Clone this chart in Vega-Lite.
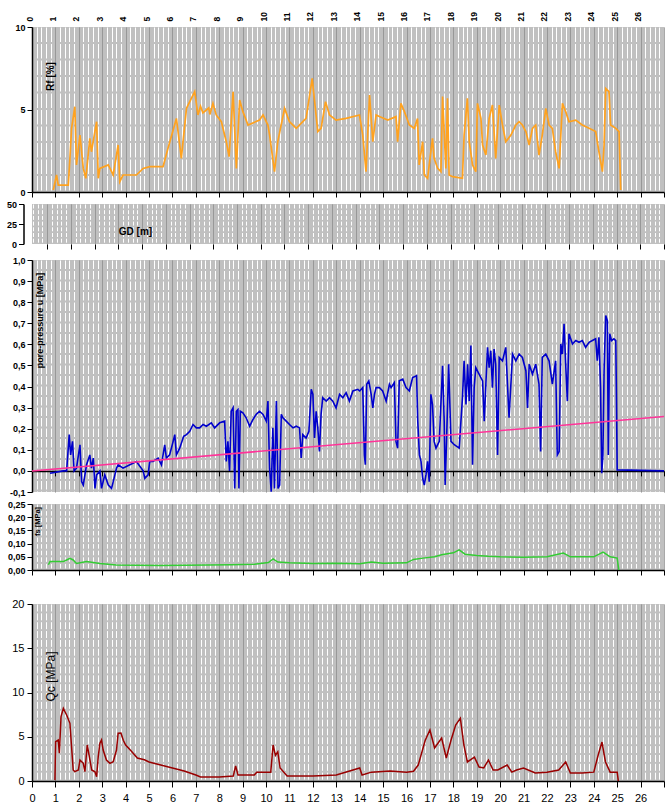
{
  "$schema": "https://vega.github.io/schema/vega-lite/v6.json",
  "padding": {"left": 6, "top": 11, "right": 0, "bottom": 0},
  "background": "white",
  "config": {
    "view": {"stroke": null},
    "axis": {"labelFont": "Liberation Sans", "labelFontWeight": "bold", "labelFontSize": 9, "labelColor": "black", "titleFont": "Liberation Sans", "titleColor": "black", "domainColor": "black", "tickColor": "black", "labelFlush": false, "labelOverlap": false}
  },
  "datasets": {
    "rf": [
      {"d":0.91,"v":0.12},{"d":1.05,"v":1.03},{"d":1.12,"v":0.42},{"d":1.55,"v":0.42},{"d":1.62,"v":2.04},{"d":1.69,"v":3.86},{"d":1.83,"v":5.17},{"d":1.9,"v":1.64},{"d":2.05,"v":3.45},{"d":2.19,"v":1.43},{"d":2.3,"v":0.83},{"d":2.47,"v":3.25},{"d":2.54,"v":2.44},{"d":2.76,"v":4.26},{"d":2.83,"v":0.83},{"d":2.9,"v":1.43},{"d":3.26,"v":1.64},{"d":3.47,"v":1.03},{"d":3.68,"v":2.85},{"d":3.75,"v":0.63},{"d":3.89,"v":1.03},{"d":4.46,"v":1.03},{"d":4.75,"v":1.43},{"d":5.03,"v":1.54},{"d":5.6,"v":1.54},{"d":5.81,"v":2.65},{"d":6.17,"v":4.46},{"d":6.38,"v":2.04},{"d":6.6,"v":5.07},{"d":6.95,"v":6.08},{"d":7.09,"v":4.67},{"d":7.2,"v":5.2},{"d":7.3,"v":4.8},{"d":7.45,"v":4.97},{"d":7.55,"v":5.1},{"d":7.6,"v":4.7},{"d":7.73,"v":5.37},{"d":7.87,"v":4.67},{"d":8.09,"v":4.26},{"d":8.3,"v":3.05},{"d":8.42,"v":2.14},{"d":8.59,"v":6.08},{"d":8.73,"v":1.43},{"d":8.87,"v":5.58},{"d":9.01,"v":4.87},{"d":9.23,"v":4.06},{"d":9.72,"v":4.36},{"d":9.87,"v":4.67},{"d":10.08,"v":4.06},{"d":10.15,"v":3.45},{"d":10.36,"v":1.23},{"d":10.5,"v":3.05},{"d":10.79,"v":5.07},{"d":11.0,"v":4.26},{"d":11.29,"v":3.86},{"d":11.57,"v":4.26},{"d":11.71,"v":4.46},{"d":11.97,"v":6.89},{"d":12.21,"v":3.66},{"d":12.35,"v":3.86},{"d":12.54,"v":5.47},{"d":12.71,"v":4.67},{"d":12.99,"v":4.36},{"d":13.42,"v":4.46},{"d":13.99,"v":4.67},{"d":14.13,"v":3.45},{"d":14.27,"v":1.23},{"d":14.42,"v":5.88},{"d":14.56,"v":3.05},{"d":14.7,"v":4.67},{"d":14.84,"v":4.57},{"d":15.2,"v":4.36},{"d":15.55,"v":4.57},{"d":15.62,"v":3.05},{"d":15.76,"v":5.37},{"d":15.91,"v":4.87},{"d":16.12,"v":4.06},{"d":16.33,"v":3.86},{"d":16.47,"v":4.46},{"d":16.54,"v":1.64},{"d":16.69,"v":3.05},{"d":16.76,"v":1.03},{"d":16.9,"v":0.83},{"d":16.97,"v":1.64},{"d":17.11,"v":3.25},{"d":17.18,"v":2.04},{"d":17.33,"v":1.43},{"d":17.47,"v":1.23},{"d":17.54,"v":5.78},{"d":17.68,"v":1.43},{"d":17.75,"v":5.68},{"d":17.82,"v":1.03},{"d":17.97,"v":0.93},{"d":18.39,"v":0.83},{"d":18.46,"v":3.45},{"d":18.6,"v":5.68},{"d":18.68,"v":3.05},{"d":18.82,"v":1.64},{"d":18.96,"v":1.23},{"d":19.03,"v":5.37},{"d":19.18,"v":4.46},{"d":19.25,"v":2.85},{"d":19.39,"v":2.24},{"d":19.53,"v":4.46},{"d":19.67,"v":5.27},{"d":19.81,"v":2.04},{"d":19.96,"v":5.27},{"d":20.1,"v":4.06},{"d":20.24,"v":3.05},{"d":20.46,"v":3.45},{"d":20.67,"v":4.06},{"d":20.81,"v":4.26},{"d":20.95,"v":4.06},{"d":21.1,"v":3.66},{"d":21.24,"v":2.85},{"d":21.38,"v":3.86},{"d":21.52,"v":4.06},{"d":21.66,"v":2.24},{"d":21.8,"v":3.45},{"d":21.95,"v":5.07},{"d":22.09,"v":4.06},{"d":22.23,"v":3.86},{"d":22.37,"v":2.44},{"d":22.52,"v":1.43},{"d":22.66,"v":5.37},{"d":22.8,"v":4.87},{"d":22.94,"v":4.26},{"d":23.23,"v":4.36},{"d":23.51,"v":4.06},{"d":23.8,"v":3.86},{"d":24.08,"v":3.66},{"d":24.22,"v":2.44},{"d":24.37,"v":1.23},{"d":24.44,"v":2.85},{"d":24.51,"v":6.28},{"d":24.65,"v":6.08},{"d":24.72,"v":4.06},{"d":24.94,"v":3.86},{"d":25.08,"v":3.66},{"d":25.15,"v":0.12}
    ],
    "u": [
      {"d":0.77,"v":-0.011},{"d":1.34,"v":0},{"d":1.48,"v":0},{"d":1.59,"v":0.172},{"d":1.65,"v":0.076},{"d":1.73,"v":0.14},{"d":1.8,"v":0},{"d":1.9,"v":0.013},{"d":2.05,"v":0.124},{"d":2.12,"v":-0.051},{"d":2.19,"v":-0.067},{"d":2.33,"v":0.029},{"d":2.47,"v":0.076},{"d":2.54,"v":0.013},{"d":2.62,"v":0.061},{"d":2.69,"v":-0.083},{"d":2.76,"v":-0.019},{"d":2.9,"v":0},{"d":2.97,"v":-0.083},{"d":3.11,"v":-0.019},{"d":3.26,"v":-0.067},{"d":3.4,"v":-0.083},{"d":3.47,"v":-0.051},{"d":3.61,"v":0.013},{"d":3.68,"v":0.029},{"d":3.89,"v":0.013},{"d":4.18,"v":0.029},{"d":4.46,"v":0.045},{"d":4.75,"v":0},{"d":4.82,"v":-0.035},{"d":4.96,"v":-0.019},{"d":5.03,"v":0.045},{"d":5.17,"v":0.045},{"d":5.39,"v":0.061},{"d":5.53,"v":0.029},{"d":5.6,"v":0.076},{"d":5.67,"v":0.124},{"d":5.74,"v":0.061},{"d":5.88,"v":0.076},{"d":6.03,"v":0.14},{"d":6.1,"v":0.172},{"d":6.17,"v":0.076},{"d":6.31,"v":0.108},{"d":6.48,"v":0.164},{"d":6.6,"v":0.172},{"d":6.74,"v":0.188},{"d":6.88,"v":0.22},{"d":7.02,"v":0.204},{"d":7.16,"v":0.204},{"d":7.31,"v":0.22},{"d":7.45,"v":0.212},{"d":7.66,"v":0.228},{"d":7.8,"v":0.204},{"d":8.02,"v":0.228},{"d":8.23,"v":0.236},{"d":8.3,"v":0.045},{"d":8.37,"v":0.14},{"d":8.44,"v":0},{"d":8.51,"v":0.283},{"d":8.59,"v":0.299},{"d":8.66,"v":-0.083},{"d":8.73,"v":0.283},{"d":8.8,"v":0.291},{"d":8.84,"v":-0.083},{"d":8.9,"v":0.283},{"d":9.01,"v":0.275},{"d":9.15,"v":0.252},{"d":9.3,"v":0.212},{"d":9.44,"v":0.244},{"d":9.58,"v":0.268},{"d":9.72,"v":0.283},{"d":9.87,"v":0.268},{"d":10.01,"v":0.236},{"d":10.08,"v":0.331},{"d":10.15,"v":0.013},{"d":10.22,"v":-0.099},{"d":10.29,"v":0.204},{"d":10.36,"v":-0.083},{"d":10.44,"v":0.331},{"d":10.51,"v":-0.083},{"d":10.58,"v":-0.067},{"d":10.65,"v":0.268},{"d":10.72,"v":0.252},{"d":10.86,"v":0.236},{"d":11.0,"v":0.22},{"d":11.15,"v":0.204},{"d":11.29,"v":0.212},{"d":11.43,"v":0.204},{"d":11.5,"v":0.061},{"d":11.57,"v":0.172},{"d":11.71,"v":0.156},{"d":11.83,"v":0.188},{"d":11.93,"v":0.387},{"d":12.0,"v":0.363},{"d":12.07,"v":0.156},{"d":12.14,"v":0.283},{"d":12.21,"v":0.204},{"d":12.28,"v":0.092},{"d":12.35,"v":0.268},{"d":12.42,"v":0.347},{"d":12.57,"v":0.331},{"d":12.71,"v":0.347},{"d":12.85,"v":0.331},{"d":12.99,"v":0.299},{"d":13.14,"v":0.363},{"d":13.28,"v":0.347},{"d":13.42,"v":0.371},{"d":13.56,"v":0.331},{"d":13.71,"v":0.379},{"d":13.92,"v":0.387},{"d":14.0,"v":0.379},{"d":14.13,"v":0.395},{"d":14.2,"v":0.076},{"d":14.24,"v":0.029},{"d":14.3,"v":0.411},{"d":14.39,"v":0.427},{"d":14.49,"v":0.363},{"d":14.56,"v":0.299},{"d":14.63,"v":0.363},{"d":14.7,"v":0.395},{"d":14.84,"v":0.395},{"d":14.98,"v":0.379},{"d":15.13,"v":0.331},{"d":15.27,"v":0.411},{"d":15.34,"v":0.395},{"d":15.48,"v":0.419},{"d":15.55,"v":0.14},{"d":15.62,"v":0.108},{"d":15.69,"v":0.427},{"d":15.84,"v":0.435},{"d":15.98,"v":0.395},{"d":16.12,"v":0.379},{"d":16.26,"v":0.443},{"d":16.43,"v":0.451},{"d":16.48,"v":0.236},{"d":16.55,"v":0.076},{"d":16.62,"v":0.045},{"d":16.69,"v":-0.035},{"d":16.76,"v":-0.067},{"d":16.83,"v":-0.019},{"d":16.9,"v":0.045},{"d":16.97,"v":-0.051},{"d":17.04,"v":0.363},{"d":17.11,"v":0.315},{"d":17.18,"v":0.14},{"d":17.26,"v":0.108},{"d":17.4,"v":0.14},{"d":17.54,"v":0.498},{"d":17.61,"v":0.236},{"d":17.65,"v":-0.067},{"d":17.71,"v":0.14},{"d":17.8,"v":0.506},{"d":17.9,"v":0.14},{"d":18.04,"v":0.124},{"d":18.25,"v":0.108},{"d":18.39,"v":0.347},{"d":18.46,"v":0.522},{"d":18.54,"v":0.315},{"d":18.61,"v":0.506},{"d":18.68,"v":0.331},{"d":18.75,"v":0.594},{"d":18.82,"v":0.029},{"d":18.89,"v":0.395},{"d":18.96,"v":0.49},{"d":19.1,"v":0.459},{"d":19.25,"v":0.427},{"d":19.32,"v":0.236},{"d":19.46,"v":0.586},{"d":19.53,"v":0.49},{"d":19.6,"v":0.57},{"d":19.67,"v":0.395},{"d":19.74,"v":0.578},{"d":19.81,"v":0.506},{"d":19.89,"v":0.076},{"d":19.96,"v":0.538},{"d":20.1,"v":0.522},{"d":20.24,"v":0.586},{"d":20.38,"v":0.252},{"d":20.53,"v":0.554},{"d":20.67,"v":0.522},{"d":20.81,"v":0.554},{"d":20.95,"v":0.538},{"d":21.1,"v":0.475},{"d":21.17,"v":0.299},{"d":21.24,"v":0.506},{"d":21.38,"v":0.459},{"d":21.52,"v":0.506},{"d":21.66,"v":0.411},{"d":21.73,"v":0.092},{"d":21.8,"v":0.538},{"d":21.95,"v":0.554},{"d":22.09,"v":0.522},{"d":22.23,"v":0.411},{"d":22.37,"v":0.522},{"d":22.44,"v":0.076},{"d":22.52,"v":0.092},{"d":22.59,"v":0.602},{"d":22.66,"v":0.554},{"d":22.73,"v":0.697},{"d":22.8,"v":0.506},{"d":22.87,"v":0.331},{"d":22.94,"v":0.65},{"d":23.09,"v":0.602},{"d":23.23,"v":0.618},{"d":23.37,"v":0.61},{"d":23.51,"v":0.618},{"d":23.65,"v":0.586},{"d":23.8,"v":0.61},{"d":23.94,"v":0.618},{"d":24.08,"v":0.626},{"d":24.15,"v":0.522},{"d":24.22,"v":0.634},{"d":24.29,"v":0.395},{"d":24.34,"v":-0.011},{"d":24.39,"v":0.076},{"d":24.44,"v":0.475},{"d":24.51,"v":0.737},{"d":24.58,"v":0.713},{"d":24.62,"v":0.076},{"d":24.68,"v":0.65},{"d":24.76,"v":0.618},{"d":24.86,"v":0.626},{"d":24.94,"v":0.618},{"d":24.96,"v":0.427},{"d":25.0,"v":0.005},{"d":27.0,"v":0}
    ],
    "hyd": [{"d":0,"v":0},{"d":27,"v":0.258}],
    "fs": [
      {"d":0.7,"v":0.02},{"d":0.77,"v":0.032},{"d":1.34,"v":0.032},{"d":1.48,"v":0.038},{"d":1.62,"v":0.044},{"d":1.76,"v":0.038},{"d":1.9,"v":0.025},{"d":2.33,"v":0.032},{"d":2.9,"v":0.025},{"d":3.6,"v":0.019},{"d":4.5,"v":0.018},{"d":5.5,"v":0.017},{"d":6.5,"v":0.018},{"d":7.5,"v":0.019},{"d":8.5,"v":0.02},{"d":9.5,"v":0.022},{"d":10.1,"v":0.028},{"d":10.3,"v":0.042},{"d":10.5,"v":0.03},{"d":11,"v":0.027},{"d":12,"v":0.025},{"d":13,"v":0.026},{"d":14,"v":0.024},{"d":14.5,"v":0.03},{"d":15,"v":0.026},{"d":16,"v":0.027},{"d":16.3,"v":0.04},{"d":16.7,"v":0.045},{"d":17.2,"v":0.05},{"d":17.5,"v":0.058},{"d":18.0,"v":0.065},{"d":18.25,"v":0.076},{"d":18.5,"v":0.06},{"d":19,"v":0.055},{"d":19.5,"v":0.052},{"d":20,"v":0.05},{"d":21,"v":0.048},{"d":22,"v":0.05},{"d":22.7,"v":0.064},{"d":23,"v":0.05},{"d":24,"v":0.05},{"d":24.4,"v":0.068},{"d":24.7,"v":0.05},{"d":25.0,"v":0.045},{"d":25.07,"v":0}
    ],
    "qc": [
      {"d":0.98,"v":0.1},{"d":1.01,"v":4.44},{"d":1.12,"v":4.63},{"d":1.17,"v":3.13},{"d":1.24,"v":7.27},{"d":1.34,"v":8.21},{"d":1.41,"v":7.83},{"d":1.48,"v":7.46},{"d":1.62,"v":6.52},{"d":1.69,"v":3.88},{"d":1.76,"v":1.24},{"d":1.83,"v":1.05},{"d":1.98,"v":1.24},{"d":2.05,"v":2.37},{"d":2.19,"v":2.0},{"d":2.26,"v":1.05},{"d":2.36,"v":4.07},{"d":2.45,"v":2.75},{"d":2.55,"v":1.24},{"d":2.69,"v":1.05},{"d":2.76,"v":0.49},{"d":2.83,"v":2.75},{"d":2.9,"v":4.26},{"d":2.97,"v":4.63},{"d":3.04,"v":3.5},{"d":3.18,"v":2.37},{"d":3.33,"v":2.0},{"d":3.47,"v":2.18},{"d":3.61,"v":3.5},{"d":3.68,"v":5.39},{"d":3.8,"v":5.42},{"d":3.9,"v":4.6},{"d":4.0,"v":4.07},{"d":4.2,"v":3.5},{"d":4.5,"v":2.6},{"d":4.8,"v":2.4},{"d":5.0,"v":2.15},{"d":5.5,"v":1.8},{"d":6.0,"v":1.47},{"d":6.5,"v":1.13},{"d":7.0,"v":0.68},{"d":7.2,"v":0.45},{"d":8.0,"v":0.45},{"d":8.6,"v":0.56},{"d":8.7,"v":1.7},{"d":8.8,"v":0.68},{"d":9.5,"v":0.68},{"d":9.6,"v":1.0},{"d":10.2,"v":1.0},{"d":10.3,"v":4.07},{"d":10.4,"v":2.9},{"d":10.5,"v":3.3},{"d":10.6,"v":1.47},{"d":10.9,"v":0.56},{"d":12.0,"v":0.56},{"d":13.0,"v":0.68},{"d":14.0,"v":1.47},{"d":14.1,"v":0.68},{"d":14.5,"v":1.0},{"d":15.3,"v":1.13},{"d":16.0,"v":1.0},{"d":16.3,"v":1.1},{"d":16.5,"v":1.8},{"d":16.8,"v":4.6},{"d":17.0,"v":5.76},{"d":17.2,"v":3.73},{"d":17.5,"v":4.86},{"d":17.7,"v":2.6},{"d":17.9,"v":4.6},{"d":18.1,"v":6.33},{"d":18.3,"v":7.1},{"d":18.45,"v":4.07},{"d":18.6,"v":2.15},{"d":18.9,"v":2.7},{"d":19.1,"v":1.58},{"d":19.3,"v":1.47},{"d":19.5,"v":2.37},{"d":19.7,"v":1.24},{"d":19.9,"v":1.24},{"d":20.3,"v":1.8},{"d":20.5,"v":1.0},{"d":20.7,"v":1.24},{"d":21.0,"v":1.47},{"d":21.5,"v":0.9},{"d":22.0,"v":1.0},{"d":22.5,"v":1.24},{"d":22.8,"v":2.15},{"d":23.0,"v":0.9},{"d":23.5,"v":0.9},{"d":24.0,"v":1.0},{"d":24.2,"v":3.05},{"d":24.35,"v":4.4},{"d":24.5,"v":2.15},{"d":24.7,"v":1.0},{"d":25.0,"v":1.0},{"d":25.05,"v":0}
    ]
  },
  "spacing": 5.5,
  "bounds": "flush",
  "resolve": {"scale": {"x": "independent", "y": "independent"}},
  "vconcat": [
    {
      "width": 632, "height": 165,
      "view": {"fill": "#c0c0c0"},
      "data": {"name": "rf"},
      "encoding": {
        "y": {"field": "v", "type": "quantitative", "scale": {"domain": [0, 10], "nice": false},
          "axis": {"values": [0, 5, 10], "grid": false, "tickSize": 5, "labelPadding": 2, "domainWidth": 1.5, "title": "Rf [%]", "titleAngle": 270, "titleX": 18, "titleY": 49, "titleAlign": "center", "titleBaseline": "middle", "titleFontSize": 10, "titleFontWeight": "bold"}}
      },
      "layer": [
        {
          "mark": {"type": "line", "opacity": 0},
          "encoding": {"x": {"field": "d", "type": "quantitative", "scale": {"domain": [0, 27], "nice": false, "zero": false},
            "axis": {"orient": "top", "values": [0,1,2,3,4,5,6,7,8,9,10,11,12,13,14,15,16,17,18,19,20,21,22,23,24,25,26], "grid": false, "ticks": false, "domain": false, "labelAngle": -90, "labelAlign": "left", "labelBaseline": "middle", "labelPadding": 6, "labelOffset": -3, "labelFontSize": 8.5, "title": null}}}
        },
        {
          "mark": {"type": "line", "color": "#FFA21F", "strokeWidth": 1.7},
          "encoding": {"x": {"field": "d", "type": "quantitative", "scale": {"domain": [0, 27], "nice": false, "zero": false},
            "axis": {"orient": "bottom", "values": [0,0.2,0.4,0.6,0.8,1,1.2,1.4,1.6,1.8,2,2.2,2.4,2.6,2.8,3,3.2,3.4,3.6,3.8,4,4.2,4.4,4.6,4.8,5,5.2,5.4,5.6,5.8,6,6.2,6.4,6.6,6.8,7,7.2,7.4,7.6,7.8,8,8.2,8.4,8.6,8.8,9,9.2,9.4,9.6,9.8,10,10.2,10.4,10.6,10.8,11,11.2,11.4,11.6,11.8,12,12.2,12.4,12.6,12.8,13,13.2,13.4,13.6,13.8,14,14.2,14.4,14.6,14.8,15,15.2,15.4,15.6,15.8,16,16.2,16.4,16.6,16.8,17,17.2,17.4,17.6,17.8,18,18.2,18.4,18.6,18.8,19,19.2,19.4,19.6,19.8,20,20.2,20.4,20.6,20.8,21,21.2,21.4,21.6,21.8,22,22.2,22.4,22.6,22.8,23,23.2,23.4,23.6,23.8,24,24.2,24.4,24.6,24.8,25,25.2,25.4,25.6,25.8,26,26.2,26.4,26.6,26.8,27],
              "grid": true, "gridWidth": 1,
              "gridColor": {"condition": {"test": "abs(datum.value - round(datum.value)) < 0.01", "value": "#8a8a8a"}, "value": "#ffffff"},
              "gridDash": {"condition": {"test": "abs(datum.value - round(datum.value)) < 0.01", "value": [1, 0]}, "value": [14.5, 2]},
              "tickSize": 5,
              "tickColor": {"condition": {"test": "abs(datum.value - round(datum.value)) < 0.01", "value": "black"}, "value": "rgba(0,0,0,0)"},
              "labels": false, "domainWidth": 1.5, "title": null}}}
        }
      ],
      "resolve": {"axis": {"x": "independent"}}
    },
    {"width": 632, "height": 1, "data": {"values": [{}]}, "mark": {"type": "point", "opacity": 0}, "encoding": {}},
    {
      "width": 632, "height": 40,
      "view": {"fill": "#c0c0c0"},
      "encoding": {
        "x": {"datum": 0, "type": "quantitative", "scale": {"domain": [0.358, 27], "nice": false, "zero": false},
          "axis": {"orient": "bottom", "values": [0.4,0.6,0.8,1,1.2,1.4,1.6,1.8,2,2.2,2.4,2.6,2.8,3,3.2,3.4,3.6,3.8,4,4.2,4.4,4.6,4.8,5,5.2,5.4,5.6,5.8,6,6.2,6.4,6.6,6.8,7,7.2,7.4,7.6,7.8,8,8.2,8.4,8.6,8.8,9,9.2,9.4,9.6,9.8,10,10.2,10.4,10.6,10.8,11,11.2,11.4,11.6,11.8,12,12.2,12.4,12.6,12.8,13,13.2,13.4,13.6,13.8,14,14.2,14.4,14.6,14.8,15,15.2,15.4,15.6,15.8,16,16.2,16.4,16.6,16.8,17,17.2,17.4,17.6,17.8,18,18.2,18.4,18.6,18.8,19,19.2,19.4,19.6,19.8,20,20.2,20.4,20.6,20.8,21,21.2,21.4,21.6,21.8,22,22.2,22.4,22.6,22.8,23,23.2,23.4,23.6,23.8,24,24.2,24.4,24.6,24.8,25,25.2,25.4,25.6,25.8,26,26.2,26.4,26.6,26.8,27],
            "grid": true, "gridWidth": 1,
            "gridColor": {"condition": {"test": "abs(datum.value - round(datum.value)) < 0.01", "value": "#8a8a8a"}, "value": "#ffffff"},
            "gridDash": {"condition": {"test": "abs(datum.value - round(datum.value)) < 0.01", "value": [1, 0]}, "value": [4, 1.7]},
            "tickSize": 5,
            "tickColor": {"condition": {"test": "abs(datum.value - round(datum.value)) < 0.01", "value": "black"}, "value": "rgba(0,0,0,0)"},
            "labels": false, "domain": false, "title": null}},
        "y": {"datum": 0, "type": "quantitative", "scale": {"domain": [0, 50], "nice": false},
          "axis": {"values": [0, 25, 50], "grid": false, "offset": 8.5, "tickSize": 5, "labelPadding": 2, "domainWidth": 1.5, "title": "GD [m]", "titleAngle": 0, "titleX": 111.5, "titleY": 27, "titleAlign": "center", "titleBaseline": "middle", "titleFontSize": 10, "titleFontWeight": "bold"}}
      },
      "layer": [
        {"mark": {"type": "rect", "color": "#c0c0c0", "clip": false}, "encoding": {"x2": {"datum": 0.358}, "y2": {"datum": 50}}},
        {"mark": {"type": "rule", "color": "black", "strokeWidth": 1.5, "clip": false}, "encoding": {"x2": {"datum": 27}}}
      ]
    },
    {"width": 632, "height": 5, "data": {"values": [{}]}, "mark": {"type": "point", "opacity": 0}, "encoding": {}},
    {
      "width": 632, "height": 232,
      "view": {"fill": "#c0c0c0"},
      "encoding": {
        "x": {"field": "d", "type": "quantitative", "scale": {"domain": [0, 27], "nice": false, "zero": false},
          "axis": {"orient": "bottom", "offset": -21.1, "values": [0,0.2,0.4,0.6,0.8,1,1.2,1.4,1.6,1.8,2,2.2,2.4,2.6,2.8,3,3.2,3.4,3.6,3.8,4,4.2,4.4,4.6,4.8,5,5.2,5.4,5.6,5.8,6,6.2,6.4,6.6,6.8,7,7.2,7.4,7.6,7.8,8,8.2,8.4,8.6,8.8,9,9.2,9.4,9.6,9.8,10,10.2,10.4,10.6,10.8,11,11.2,11.4,11.6,11.8,12,12.2,12.4,12.6,12.8,13,13.2,13.4,13.6,13.8,14,14.2,14.4,14.6,14.8,15,15.2,15.4,15.6,15.8,16,16.2,16.4,16.6,16.8,17,17.2,17.4,17.6,17.8,18,18.2,18.4,18.6,18.8,19,19.2,19.4,19.6,19.8,20,20.2,20.4,20.6,20.8,21,21.2,21.4,21.6,21.8,22,22.2,22.4,22.6,22.8,23,23.2,23.4,23.6,23.8,24,24.2,24.4,24.6,24.8,25,25.2,25.4,25.6,25.8,26,26.2,26.4,26.6,26.8,27],
            "grid": true, "gridWidth": 1,
            "gridColor": {"condition": {"test": "abs(datum.value - round(datum.value)) < 0.01", "value": "#8a8a8a"}, "value": "#ffffff"},
            "gridDash": {"condition": {"test": "abs(datum.value - round(datum.value)) < 0.01", "value": [1, 0]}, "value": [8.5, 2]},
            "tickSize": 5,
            "tickColor": {"condition": {"test": "abs(datum.value - round(datum.value)) < 0.01", "value": "black"}, "value": "rgba(0,0,0,0)"},
            "labels": false, "domainWidth": 1.5, "title": null}},
        "y": {"field": "v", "type": "quantitative", "scale": {"domain": [-0.1, 1.0], "nice": false, "zero": false},
          "axis": {"values": [-0.1, 0, 0.1, 0.2, 0.3, 0.4, 0.5, 0.6, 0.7, 0.8, 0.9, 1.0], "labelExpr": "replace(replace(format(datum.value, '.1f'), '.', ','), '\u2212', '-')", "grid": false, "tickSize": 5, "labelPadding": 2, "domainWidth": 1.5, "title": "pore-pressure u [MPa]", "titleAngle": 270, "titleX": 7, "titleY": 60, "titleAlign": "center", "titleBaseline": "middle", "titleFontSize": 9, "titleFontWeight": "bold"}}
      },
      "layer": [
        {"data": {"name": "u"}, "mark": {"type": "line", "color": "#0000CC", "strokeWidth": 1.6}},
        {"data": {"name": "hyd"}, "mark": {"type": "line", "color": "#FF3399", "strokeWidth": 1.5}}
      ]
    },
    {"width": 632, "height": 1, "data": {"values": [{}]}, "mark": {"type": "point", "opacity": 0}, "encoding": {}},
    {
      "width": 632, "height": 66,
      "view": {"fill": "#c0c0c0"},
      "data": {"name": "fs"},
      "mark": {"type": "line", "color": "#33CC33", "strokeWidth": 1.5},
      "encoding": {
        "x": {"field": "d", "type": "quantitative", "scale": {"domain": [0, 27], "nice": false, "zero": false},
          "axis": {"orient": "bottom", "values": [0,0.2,0.4,0.6,0.8,1,1.2,1.4,1.6,1.8,2,2.2,2.4,2.6,2.8,3,3.2,3.4,3.6,3.8,4,4.2,4.4,4.6,4.8,5,5.2,5.4,5.6,5.8,6,6.2,6.4,6.6,6.8,7,7.2,7.4,7.6,7.8,8,8.2,8.4,8.6,8.8,9,9.2,9.4,9.6,9.8,10,10.2,10.4,10.6,10.8,11,11.2,11.4,11.6,11.8,12,12.2,12.4,12.6,12.8,13,13.2,13.4,13.6,13.8,14,14.2,14.4,14.6,14.8,15,15.2,15.4,15.6,15.8,16,16.2,16.4,16.6,16.8,17,17.2,17.4,17.6,17.8,18,18.2,18.4,18.6,18.8,19,19.2,19.4,19.6,19.8,20,20.2,20.4,20.6,20.8,21,21.2,21.4,21.6,21.8,22,22.2,22.4,22.6,22.8,23,23.2,23.4,23.6,23.8,24,24.2,24.4,24.6,24.8,25,25.2,25.4,25.6,25.8,26,26.2,26.4,26.6,26.8,27],
            "grid": true, "gridWidth": 1,
            "gridColor": {"condition": {"test": "abs(datum.value - round(datum.value)) < 0.01", "value": "#8a8a8a"}, "value": "#ffffff"},
            "gridDash": {"condition": {"test": "abs(datum.value - round(datum.value)) < 0.01", "value": [1, 0]}, "value": [4.6, 2]},
            "tickSize": 5,
            "tickColor": {"condition": {"test": "abs(datum.value - round(datum.value)) < 0.01", "value": "black"}, "value": "rgba(0,0,0,0)"},
            "labels": false, "domainWidth": 1.5, "title": null}},
        "y": {"field": "v", "type": "quantitative", "scale": {"domain": [0, 0.25], "nice": false},
          "axis": {"values": [0, 0.05, 0.1, 0.15, 0.2, 0.25], "labelExpr": "replace(format(datum.value, '.2f'), '.', ',')", "grid": false, "tickSize": 5, "labelPadding": 2, "domainWidth": 1.5, "title": "fs [MPa]", "titleAngle": 270, "titleX": 5, "titleY": 17, "titleAlign": "center", "titleBaseline": "middle", "titleFontSize": 7.5, "titleFontWeight": "bold"}}
      }
    },
    {"width": 632, "height": 23, "data": {"values": [{}]}, "mark": {"type": "point", "opacity": 0}, "encoding": {}},
    {
      "width": 632, "height": 177,
      "view": {"fill": "#c0c0c0"},
      "data": {"name": "qc"},
      "mark": {"type": "line", "color": "#990000", "strokeWidth": 1.5},
      "encoding": {
        "x": {"field": "d", "type": "quantitative", "scale": {"domain": [0, 27], "nice": false, "zero": false},
          "axis": {"orient": "bottom", "values": [0,0.2,0.4,0.6,0.8,1,1.2,1.4,1.6,1.8,2,2.2,2.4,2.6,2.8,3,3.2,3.4,3.6,3.8,4,4.2,4.4,4.6,4.8,5,5.2,5.4,5.6,5.8,6,6.2,6.4,6.6,6.8,7,7.2,7.4,7.6,7.8,8,8.2,8.4,8.6,8.8,9,9.2,9.4,9.6,9.8,10,10.2,10.4,10.6,10.8,11,11.2,11.4,11.6,11.8,12,12.2,12.4,12.6,12.8,13,13.2,13.4,13.6,13.8,14,14.2,14.4,14.6,14.8,15,15.2,15.4,15.6,15.8,16,16.2,16.4,16.6,16.8,17,17.2,17.4,17.6,17.8,18,18.2,18.4,18.6,18.8,19,19.2,19.4,19.6,19.8,20,20.2,20.4,20.6,20.8,21,21.2,21.4,21.6,21.8,22,22.2,22.4,22.6,22.8,23,23.2,23.4,23.6,23.8,24,24.2,24.4,24.6,24.8,25,25.2,25.4,25.6,25.8,26,26.2,26.4,26.6,26.8,27],
            "grid": true, "gridWidth": 1,
            "gridColor": {"condition": {"test": "abs(datum.value - round(datum.value)) < 0.01", "value": "#8a8a8a"}, "value": "#ffffff"},
            "gridDash": {"condition": {"test": "abs(datum.value - round(datum.value)) < 0.01", "value": [1, 0]}, "value": [7, 1.85]},
            "tickSize": 6,
            "tickColor": {"condition": {"test": "abs(datum.value - round(datum.value)) < 0.01", "value": "black"}, "value": "rgba(0,0,0,0)"},
            "labelExpr": "abs(datum.value - round(datum.value)) < 0.01 && datum.value < 26.5 ? format(round(datum.value), 'd') : ''",
            "labelFontSize": 11, "labelFontWeight": "normal", "labelPadding": 5,
            "domainWidth": 1.5, "title": null}},
        "y": {"field": "v", "type": "quantitative", "scale": {"domain": [0, 20], "nice": false},
          "axis": {"values": [0, 5, 10, 15, 20], "grid": false, "tickSize": 5, "labelPadding": 3, "labelFontSize": 11, "labelFontWeight": "normal", "domainWidth": 1.5, "title": "Qc [MPa]", "titleAngle": 270, "titleX": 18, "titleY": 72, "titleAlign": "center", "titleBaseline": "middle", "titleFontSize": 12, "titleFontWeight": "normal"}}
      }
    }
  ]
}
